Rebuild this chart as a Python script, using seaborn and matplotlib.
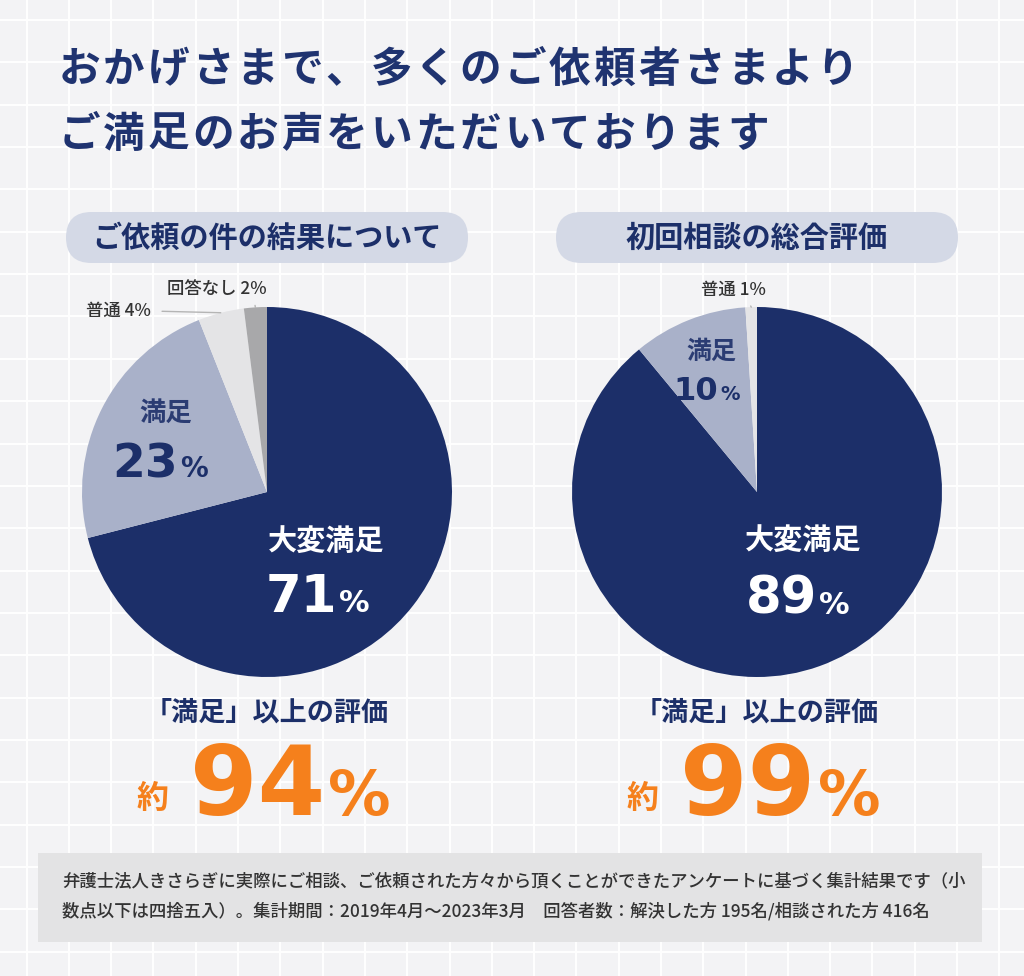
import matplotlib.pyplot as plt
from matplotlib.patches import FancyBboxPatch, Rectangle
import seaborn as sns

sns.set_theme(style="white")
plt.rcParams['font.family'] = ['Noto Sans CJK JP', 'DejaVu Sans']

# ---------------------------
# Data
# ---------------------------
title_lines = ["おかげさまで、多くのご依頼者さまより", "ご満足のお声をいただいております"]
chart_titles = ["ご依頼の件の結果について", "初回相談の総合評価"]

labels_result = ["大変満足", "満足", "普通", "回答なし"]
values_result = [71, 23, 4, 2]

labels_first = ["大変満足", "満足", "普通"]
values_first = [89, 10, 1]

summary_label = "「満足」以上の評価"
summary_values = [94, 99]

note_lines = [
    "弁護士法人きさらぎに実際にご相談、ご依頼された方々から頂くことができたアンケートに基づく集計結果です（小",
    "数点以下は四捨五入）。集計期間：2019年4月～2023年3月　回答者数：解決した方 195名/相談された方 416名",
]

# ---------------------------
# Style
# ---------------------------
NAVY = "#1c2f69"
BLUE_GRAY = "#a9b1c9"
LIGHT = "#e4e4e6"
MID = "#a8a8aa"
ORANGE = "#f5801c"
BG = "#f3f3f5"
PILL = "#d4d9e6"
NUM_FONT = ["DejaVu Sans"]

W, H = 1024, 976
fig = plt.figure(figsize=(W / 100, H / 100), dpi=100)
fig.patch.set_facecolor(BG)

bg = fig.add_axes([0, 0, 1, 1])
bg.set_xlim(0, W)
bg.set_ylim(H, 0)
bg.axis("off")
px = bg.transData

# grid pattern
x = 26.5
while x < W:
    bg.axvline(x, color="white", lw=1.4, zorder=0)
    x += 42.3
y = 20
while y < H:
    bg.axhline(y, color="white", lw=1.4, zorder=0)
    y += 42.35

# ---------------------------
# Title
# ---------------------------
for row, line in enumerate(title_lines):
    for i, ch in enumerate(line):
        bg.text(79 + 44.6 * i, 70 + 65 * row, ch, ha="center", va="center",
                fontsize=30, weight="bold", color="#1f3370")


def number(ax, xr, base, value, size, psize, color):
    ax.text(xr, base, str(value), transform=px, ha="right", va="baseline",
            fontsize=size, weight="bold", color=color, family=NUM_FONT)
    ax.text(xr + 2, base, "%", transform=px, ha="left", va="baseline",
            fontsize=psize, weight="bold", color=color, family=NUM_FONT)


def draw_pie(cx, title, labels, values, colors):
    r = 185
    ax = fig.add_axes([(cx - r) / W, (H - 492 - r) / H, 2 * r / W, 2 * r / H], zorder=2)
    wedges, _ = ax.pie(values, colors=colors, startangle=90, counterclock=False,
                       wedgeprops=dict(linewidth=0))
    ax.set_xlim(-1, 1)
    ax.set_ylim(-1, 1)

    pill = FancyBboxPatch((cx - 201, 212), 402, 51,
                          boxstyle="round,pad=0,rounding_size=25.5",
                          fc=PILL, ec="none", zorder=2)
    bg.add_patch(pill)
    bg.text(cx, 238, title, ha="center", va="center", fontsize=21,
            weight="bold", color=NAVY, zorder=3)
    return ax, wedges


def side_label(ax, text, xy, xytext, relpos, shrink):
    ax.annotate(text, xy=xy, xytext=xytext, textcoords=px, ha="center",
                va="center", fontsize=12.5, weight="medium", color="#333333",
                arrowprops=dict(arrowstyle="-", color="#b5b5b5", lw=1,
                                shrinkA=shrink, shrinkB=0, relpos=relpos),
                annotation_clip=False)


# left chart
ax1, w1 = draw_pie(267, chart_titles[0], labels_result, values_result,
                   [NAVY, BLUE_GRAY, LIGHT, MID])
ax1.text(326, 541, labels_result[0], transform=px, ha="center", va="center",
         fontsize=21, weight="bold", color="white")
number(ax1, 337, 612, values_result[0], 37, 22, "white")
ax1.text(166, 413, labels_result[1], transform=px, ha="center", va="center",
         fontsize=19, weight="bold", color="#2b3c73")
number(ax1, 178, 477, values_result[1], 34, 20, NAVY)

side_label(ax1, f"{labels_result[3]} {values_result[3]}%", (-0.063, 0.998),
           (217, 289), (0.87, 0.0), 3)
side_label(ax1, f"{labels_result[2]} {values_result[2]}%", (-0.25, 0.969),
           (118, 311), (1.0, 0.5), 6)

# right chart
ax2, w2 = draw_pie(757, chart_titles[1], labels_first, values_first,
                   [NAVY, BLUE_GRAY, LIGHT])
ax2.text(803, 540, labels_first[0], transform=px, ha="center", va="center",
         fontsize=21, weight="bold", color="white")
number(ax2, 817, 614, values_first[0], 37, 22, "white")
ax2.text(711, 352, labels_first[1], transform=px, ha="center", va="center",
         fontsize=18, weight="bold", color="#2b3c73")
number(ax2, 718, 400, values_first[1], 23, 14, NAVY)
side_label(ax2, f"{labels_first[2]} {values_first[2]}%", (-0.031, 0.999),
           (733, 290), (0.72, 0.0), 3)

# ---------------------------
# Summary (orange)
# ---------------------------
for cx, val in zip([267, 757], summary_values):
    bg.text(cx, 713, summary_label, ha="center", va="center", fontsize=19.5,
            weight="bold", color=NAVY)
    bg.text(cx - 114, 799, "約", ha="center", va="center", fontsize=23,
            weight="bold", color=ORANGE)
    bg.text(cx + 58, 815, str(val), ha="right", va="baseline", fontsize=70,
            weight="bold", color=ORANGE, family=NUM_FONT)
    bg.text(cx + 61, 815, "%", ha="left", va="baseline", fontsize=45,
            weight="bold", color=ORANGE, family=NUM_FONT)

# ---------------------------
# Footnote box
# ---------------------------
bg.add_patch(Rectangle((38, 853), 944, 89, fc="#e3e3e4", ec="none", zorder=2))
for i, line in enumerate(note_lines):
    bg.text(62, 881 + 30 * i, line, ha="left", va="center", fontsize=12.5,
            weight="medium", color="#333333", zorder=3)

fig.savefig("out.png", dpi=100, facecolor=BG)
